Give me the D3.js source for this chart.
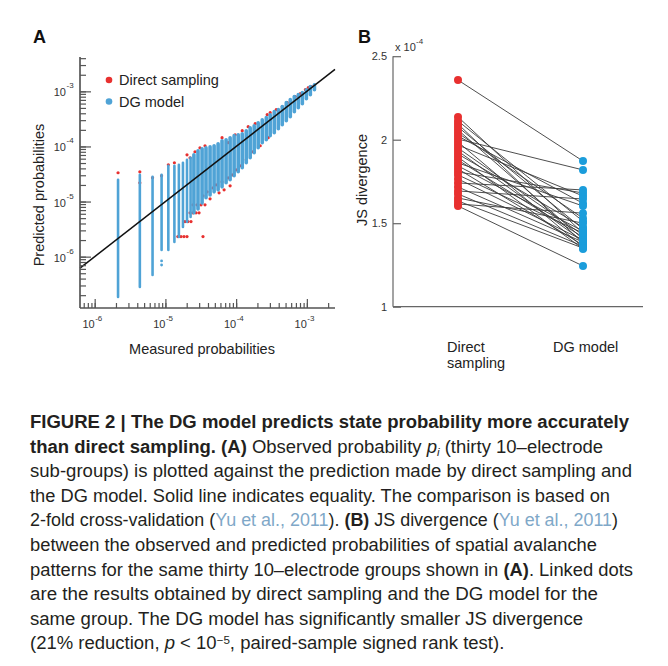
<!DOCTYPE html>
<html><head><meta charset="utf-8">
<script src="https://cdn.jsdelivr.net/npm/d3@7"></script>
<style>
html,body{margin:0;padding:0;background:#fff;}
svg{display:block;}
text{font-family:"Liberation Sans",Arial,sans-serif;}
</style></head>
<body>
<svg id="fig" width="668" height="666"></svg>
<script>
// ---------- Panel A data ----------
// DG model: vertical runs of predicted values for each measured probability
const dgMeasured = [2.14e-6,4.35e-6,6.58e-6,8.83e-6,1.10e-5,1.34e-5,1.55e-5,1.77e-5,2.02e-5,2.27e-5,
  2.53e-5,2.89e-5,3.30e-5,3.75e-5,4.28e-5,4.88e-5,5.56e-5,6.32e-5,7.21e-5,8.22e-5,9.37e-5,1.07e-4,1.22e-4,
  1.39e-4,1.58e-4,1.80e-4,2.05e-4,2.34e-4,2.67e-4,3.03e-4,3.46e-4,3.95e-4,4.49e-4,5.12e-4,5.83e-4,6.65e-4,
  7.57e-4,8.63e-4,9.84e-4,1.12e-3,1.28e-3];
const dgPredHigh = [2.48e-5,3.05e-5,2.81e-5,3.05e-5,4.46e-5,4.46e-5,4.64e-5,5.06e-5,5.73e-5,6.24e-5,
  7.06e-5,8.36e-5,9.08e-5,9.46e-5,9.88e-5,1.03e-4,1.12e-4,1.27e-4,1.32e-4,1.44e-4,1.57e-4,1.63e-4,1.70e-4,
  1.93e-4,2.19e-4,2.38e-4,2.70e-4,3.05e-4,3.33e-4,3.77e-4,4.28e-4,4.65e-4,5.27e-4,6.24e-4,7.06e-4,8.02e-4,
  8.71e-4,9.46e-4,1.07e-3,1.22e-3,1.32e-3];
const dgPredLow = [1.85e-7,2.81e-7,4.65e-7,1.32e-6,1.32e-6,1.85e-6,2.28e-6,3.47e-6,4.28e-6,5.27e-6,
  6.24e-6,7.36e-6,9.46e-6,1.17e-5,1.32e-5,1.50e-5,1.63e-5,1.85e-5,2.19e-5,2.48e-5,2.93e-5,3.47e-5,4.10e-5,
  5.06e-5,6.24e-5,7.67e-5,9.46e-5,1.17e-4,1.32e-4,1.57e-4,1.77e-4,2.10e-4,2.48e-4,2.93e-4,3.47e-4,4.28e-4,
  5.06e-4,5.97e-4,7.36e-4,8.71e-4,1.07e-3];
const dgExtra = [[8.83e-6,8.35e-7],[8.83e-6,7.06e-7]];
// Direct sampling: [measured, predicted]
const dsPoints = [
  [2.14e-6,3.33e-5],[4.35e-6,3.47e-5],[4.35e-6,2.19e-5],[6.58e-6,2.70e-5],[8.83e-6,2.93e-5],[1.10e-5,4.64e-5],[1.34e-5,5.06e-5],
  [1.50e-5,2.31e-6],[1.66e-5,2.31e-6],[1.83e-5,2.31e-6],[2.02e-5,2.31e-6],[3.40e-5,2.31e-6],
  [1.89e-5,4.33e-6],[2.08e-5,4.33e-6],[2.30e-5,4.33e-6],
  [2.23e-5,6.24e-6],[2.45e-5,6.24e-6],[2.71e-5,6.24e-6],[2.99e-5,6.24e-6],
  [2.45e-5,8.71e-6],[2.80e-5,8.71e-6],[3.19e-5,8.71e-6],[3.63e-5,8.71e-6],
  [3.40e-5,1.27e-5],[3.88e-5,1.50e-5],[4.28e-5,1.12e-5],[4.72e-5,1.77e-5],[5.20e-5,2.01e-5],[5.74e-5,1.44e-5],
  [6.32e-5,2.28e-5],[6.76e-5,1.63e-5],[7.71e-5,2.70e-5],[8.22e-5,1.93e-5],[8.77e-5,3.05e-5],[1.00e-4,3.77e-5],
  [1.14e-4,4.46e-5],[1.39e-4,5.73e-5],[1.69e-4,8.02e-5],[2.19e-4,1.03e-4],[2.84e-4,1.44e-4],
  [2.02e-5,7.06e-5],[2.23e-5,6.24e-5],[2.62e-5,8.02e-5],[3.08e-5,9.46e-5],[3.63e-5,1.03e-4],[6.32e-5,1.44e-4],
  [7.71e-5,1.17e-4],[9.68e-5,1.63e-4],[1.22e-4,1.93e-4],[1.48e-4,2.28e-4],[1.86e-4,2.59e-4],[2.75e-4,3.77e-4],
  [3.03e-4,4.10e-4],[3.69e-4,4.65e-4],[4.49e-4,5.27e-4],[5.28e-4,6.24e-4],[6.87e-4,8.02e-4],[8.09e-4,9.08e-4],
  [9.53e-4,1.07e-3],[1.05e-3,1.17e-3],[1.16e-3,1.22e-3]];
const xTickValuesA = [1e-6,1e-5,1e-4,1e-3];
const xTickExpA = ["-6","-5","-4","-3"];
const yTickValuesA = [1e-6,1e-5,1e-4,1e-3];
const yTickExpA = ["-6","-5","-4","-3"];
const legendA = ["Direct sampling","DG model"];

// ---------- Panel B data ----------
const conditions = ["Direct sampling","DG model"];
const jsDirect = [2.357,2.136,2.112,2.094,2.076,2.058,2.040,2.022,2.004,1.986,1.968,1.950,1.932,1.914,1.896,
  1.878,1.861,1.843,1.825,1.807,1.789,1.765,1.741,1.717,1.693,1.675,1.651,1.633,1.615,1.603];
const jsDG = [1.872,1.441,1.512,1.380,1.465,1.405,1.530,1.619,1.819,1.357,1.663,1.429,1.393,1.477,1.346,
  1.417,1.603,1.453,1.369,1.681,1.441,1.399,1.699,1.387,1.645,1.362,1.500,1.351,1.560,1.244];
const yTickValuesB = [1,1.5,2,2.5];
const yTickLabelsB = ["1","1.5","2","2.5"];

// ---------- Caption ----------
const captionLines = [
  [{t:"FIGURE 2 | The DG model predicts state probability more accurately",b:1}],
  [{t:"than direct sampling. (A)",b:1},{t:" Observed probability "},{t:"p",i:1},{t:"i",i:1,sub:1},{t:" (thirty 10–electrode"}],
  [{t:"sub-groups) is plotted against the prediction made by direct sampling and"}],
  [{t:"the DG model. Solid line indicates equality. The comparison is based on"}],
  [{t:"2-fold cross-validation ("},{t:"Yu et al., 2011",c:1},{t:"). "},{t:"(B)",b:1},{t:" JS divergence ("},{t:"Yu et al., 2011",c:1},{t:")"}],
  [{t:"between the observed and predicted probabilities of spatial avalanche"}],
  [{t:"patterns for the same thirty 10–electrode groups shown in "},{t:"(A)",b:1},{t:". Linked dots"}],
  [{t:"are the results obtained by direct sampling and the DG model for the"}],
  [{t:"same group. The DG model has significantly smaller JS divergence"}],
  [{t:"(21% reduction, "},{t:"p",i:1},{t:" < 10"},{t:"−5",sup:1},{t:", paired-sample signed rank test)."}]
];
const captionWidths = [599,573,602,580,588,567,603,568,553,null];

const RED = "#e8302f", BLUE_A = "#4fa3d6", BLUE_B = "#1b9ddb";
const svg = d3.select("#fig");

// ===== Panel A =====
const gA = svg.append("g");
const xA = d3.scaleLog().domain([6.2e-7, 2.5e-3]).range([80, 335]);
const yA = d3.scaleLog().domain([1.17e-7, 4.2e-3]).range([308, 57]);

gA.append("text").attr("x",33).attr("y",43).attr("font-size",18).attr("font-weight","bold").attr("fill","#111").text("A");

gA.append("g").selectAll("circle").data(dsPoints).join("circle")
  .attr("cx",d=>xA(d[0])).attr("cy",d=>yA(d[1])).attr("r",1.6).attr("fill",RED);
gA.append("g").selectAll("line").data(dgMeasured).join("line")
  .attr("x1",d=>xA(d)).attr("x2",d=>xA(d))
  .attr("y1",(d,i)=>yA(dgPredHigh[i])).attr("y2",(d,i)=>yA(dgPredLow[i]))
  .attr("stroke",BLUE_A).attr("stroke-width",(d,i)=> i<10 ? 2.6 : 3.6).attr("stroke-linecap","round");
gA.append("g").selectAll("circle").data(dgExtra).join("circle")
  .attr("cx",d=>xA(d[0])).attr("cy",d=>yA(d[1])).attr("r",1.4).attr("fill",BLUE_A);
const xd = xA.domain();
gA.append("line").attr("x1",xA(xd[0])).attr("y1",yA(xd[0])).attr("x2",xA(xd[1])).attr("y2",yA(xd[1]))
  .attr("stroke","#111").attr("stroke-width",1.5);

const axCol = "#555";
const xMinor = d3.axisBottom(xA).tickValues(xA.ticks()).tickSize(-5).tickFormat("");
const xMajor = d3.axisBottom(xA).tickValues(xTickValuesA).tickSize(-9).tickFormat("");
const yMinor = d3.axisLeft(yA).tickValues(yA.ticks()).tickSize(-6).tickFormat("");
const yMajor = d3.axisLeft(yA).tickValues(yTickValuesA).tickSize(-11).tickFormat("");
[xMinor,xMajor].forEach(a=>{
  const g=gA.append("g").attr("transform","translate(0,308)").call(a);
  g.selectAll("path,line").attr("stroke",axCol).attr("stroke-width",1.2);
  g.select("path").attr("d","M80,0H335");
});
[yMinor,yMajor].forEach(a=>{
  const g=gA.append("g").attr("transform","translate(80,0)").call(a);
  g.selectAll("path,line").attr("stroke",axCol).attr("stroke-width",1.2);
  g.select("path").attr("d","M0,308V57");
});
xTickValuesA.forEach((v,i)=>{
  const x=xA(v);
  gA.append("text").attr("x",x).attr("y",328).attr("text-anchor","end").attr("font-size",11).attr("fill","#333").text("10");
  gA.append("text").attr("x",x+0.5).attr("y",321).attr("font-size",8).attr("fill","#333").text(xTickExpA[i]);
});
yTickValuesA.forEach((v,i)=>{
  const y=yA(v);
  gA.append("text").attr("x",66).attr("y",y+5).attr("text-anchor","end").attr("font-size",11).attr("fill","#333").text("10");
  gA.append("text").attr("x",66.5).attr("y",y-3).attr("font-size",8).attr("fill","#333").text(yTickExpA[i]);
});
gA.append("text").attr("x",202).attr("y",354).attr("text-anchor","middle").attr("font-size",14.5).attr("fill","#222").text("Measured probabilities");
gA.append("text").attr("transform","translate(44,195) rotate(-90)").attr("text-anchor","middle").attr("font-size",14.5).attr("fill","#222").text("Predicted probabilities");
legendA.forEach((t,i)=>{
  const y=80+i*21.5;
  gA.append("circle").attr("cx",109).attr("cy",y).attr("r",3.3).attr("fill",i?BLUE_A:RED);
  gA.append("text").attr("x",119).attr("y",y+5).attr("font-size",14.5).attr("fill","#222").text(t);
});

// ===== Panel B =====
const gB = svg.append("g");
const xB = d3.scalePoint().domain(conditions).range([458, 583]);
const yB = d3.scaleLinear().domain([1, 2.5]).range([306.7, 56.2]);
gB.append("text").attr("x",358).attr("y",43).attr("font-size",18).attr("font-weight","bold").attr("fill","#111").text("B");
const yAxB = d3.axisLeft(yB).tickValues(yTickValuesB).tickSize(-8).tickFormat("");
const gy = gB.append("g").attr("transform","translate(393,0)").call(yAxB);
gy.selectAll("path,line").attr("stroke","#666").attr("stroke-width",1.2);
gy.select("path").attr("d","M0,306.7V56.2");
gB.append("line").attr("x1",393).attr("x2",643).attr("y1",306.7).attr("y2",306.7).attr("stroke","#666").attr("stroke-width",1.2);
yTickValuesB.forEach((v,i)=>{
  gB.append("text").attr("x",387).attr("y",yB(v)+4).attr("text-anchor","end").attr("font-size",11).attr("fill","#333").text(yTickLabelsB[i]);
});
gB.append("text").attr("x",395).attr("y",51).attr("font-size",11).attr("fill","#333").text("x 10");
gB.append("text").attr("x",416).attr("y",44).attr("font-size",8).attr("fill","#333").text("-4");
gB.append("text").attr("transform","translate(367,180) rotate(-90)").attr("text-anchor","middle").attr("font-size",14.5).attr("fill","#222").text("JS divergence");
gB.append("g").selectAll("line").data(jsDirect).join("line")
  .attr("x1",xB(conditions[0])).attr("x2",xB(conditions[1]))
  .attr("y1",d=>yB(d)).attr("y2",(d,i)=>yB(jsDG[i]))
  .attr("stroke","#3a3a3a").attr("stroke-width",0.9);
gB.append("g").selectAll("circle").data(jsDirect).join("circle")
  .attr("cx",xB(conditions[0])).attr("cy",d=>yB(d)).attr("r",4).attr("fill",RED);
gB.append("g").selectAll("circle").data(jsDG).join("circle")
  .attr("cx",xB(conditions[1])).attr("cy",d=>yB(d)).attr("r",4).attr("fill",BLUE_B);
gB.append("text").attr("x",447).attr("y",352).attr("font-size",14.5).attr("fill","#222").text("Direct");
gB.append("text").attr("x",447).attr("y",368).attr("font-size",14.5).attr("fill","#222").text("sampling");
gB.append("text").attr("x",553).attr("y",352).attr("font-size",14.5).attr("fill","#222").text("DG model");

// ===== Caption =====
const gC = svg.append("g");
const capNodes = [];
captionLines.forEach((line,li)=>{
  const t = gC.append("text").attr("x",30).attr("y",428+li*24.6).attr("font-size",17.5).attr("fill","#231f20")
    .attr("font-family","'Liberation Sans Narrow','Liberation Sans',Arial,sans-serif");
  line.forEach(s=>{
    const ts = t.append("tspan").text(s.t);
    if(s.b) ts.attr("font-weight","bold");
    if(s.i) ts.attr("font-style","italic");
    if(s.c) ts.attr("fill","#7fa8c8");
    if(s.sub) ts.attr("baseline-shift","-25%").attr("font-size",11);
    if(s.sup) ts.attr("baseline-shift","45%").attr("font-size",11);
  });
  capNodes.push(t);
});
// uniform compression factor from measured lines, applied to the unmeasured one
const ratios = [];
capNodes.forEach((t,i)=>{ if(captionWidths[i]) ratios.push(captionWidths[i]/t.node().getComputedTextLength()); });
const medRatio = d3.median(ratios);
capNodes.forEach((t,i)=>{
  const w = captionWidths[i] || t.node().getComputedTextLength()*medRatio;
  t.attr("textLength",w).attr("lengthAdjust","spacingAndGlyphs");
});
</script>
</body></html>
